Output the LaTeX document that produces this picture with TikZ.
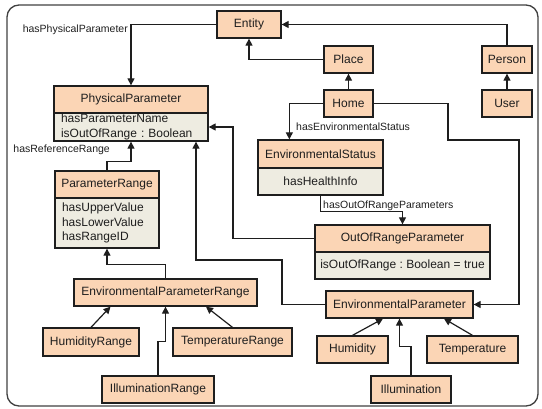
\documentclass[tikz,border=0pt]{standalone}
\usepackage{fontspec}
\setmainfont{Liberation Sans}
\usetikzlibrary{arrows.meta,calc}
\definecolor{peach}{HTML}{FBD5B5}
\definecolor{attrfill}{HTML}{EEECE1}
\definecolor{ink}{HTML}{1E1E1E}
\frenchspacing
\begin{document}
\begin{tikzpicture}[x=1pt,y=-1pt,
  box/.style={draw=ink, line width=1.3pt, fill=peach, minimum height=27pt, inner sep=0pt, font=\fontsize{12}{14}\selectfont, text=ink},
  attrbox/.style={draw=ink, line width=1.3pt, fill=attrfill, inner xsep=7pt, inner ysep=0pt, font=\fontsize{12}{14.3}\selectfont, text=ink},
  arr/.style={draw=ink, line width=1.2pt, -{Triangle[length=7pt,width=7pt]}},
  lbl/.style={inner sep=0pt, font=\fontsize{10.5}{12}\selectfont, text=ink}]
\useasboundingbox (0,0) rectangle (542,409);
\draw[draw=ink!85, line width=1.3pt, rounded corners=12pt] (7,5) rectangle (538,406);

% nodes
\node[box, minimum width=64pt] (Entity) at (249,24.5) {Entity};
\node[box, minimum width=49pt] (Place) at (348.5,59.5) {Place};
\node[box, minimum width=49pt] (Home) at (348.5,103.5) {Home};
\node[box, minimum width=50pt] (Person) at (507,59.5) {Person};
\node[box, minimum width=50pt] (User) at (507,103.5) {User};
\node[box, minimum width=154pt] (PPh) at (131,99.5) {PhysicalParameter};
\node[attrbox, text width=140pt, minimum height=28pt, align=left] (PPa) at (131,127) {hasParameterName\\isOutOfRange : Boolean};
\node[box, minimum width=104pt] (PRh) at (107,184.5) {ParameterRange};
\node[attrbox, text width=90pt, minimum height=50pt, align=left] (PRa) at (107,223) {hasUpperValue\\hasLowerValue\\hasRangeID};
\node[box, minimum width=125pt, minimum height=28pt] (ESh) at (320.5,154) {EnvironmentalStatus};
\node[attrbox, minimum width=125pt, minimum height=27pt] (ESa) at (320.5,181.5) {hasHealthInfo};
\node[box, minimum width=175pt] (ORPh) at (402.5,238.5) {OutOfRangeParameter};
\node[attrbox, inner xsep=0pt, minimum width=175pt, minimum height=27pt] (ORPa) at (402.5,265.5) {isOutOfRange : Boolean = true};
\node[box, minimum width=147pt] (EP) at (399.5,304.5) {EnvironmentalParameter};
\node[box, minimum width=71pt] (Hum) at (352.5,349.5) {Humidity};
\node[box, minimum width=91pt] (Temp) at (472.5,349.5) {Temperature};
\node[box, minimum width=80pt] (Ill) at (411,389.5) {Illumination};
\node[box, minimum width=183pt] (EPR) at (165.5,292.5) {EnvironmentalParameterRange};
\node[box, minimum width=96pt, minimum height=28pt] (HR) at (91,342) {HumidityRange};
\node[box, minimum width=119pt, minimum height=28pt] (TR) at (232.5,342) {TemperatureRange};
\node[box, minimum width=112pt] (IR) at (158,389.5) {IlluminationRange};

% connectors
\draw[arr] (Entity.west) -| (PPh.north);
\draw[arr] (Place.west) -| (Entity.south);
\draw[arr] (Person.north) |- (Entity.east);
\draw[arr] (User.north) -- (Person.south);
\draw[arr] (Home.north) -- (Place.south);
\draw[arr] (Home.west) -| ([xshift=32pt]ESh.north west);
\draw[arr] (Home.east) -| (448,140) -| (519,304.5) -- (EP.east);
\draw[arr] (ESa.south) -- (320.5,211.5) -| (ORPh.north);
\draw[arr] (ORPh.west) -- (233,238.5) |- (PPa.east);
\draw[arr] (EP.west) -| (282,260) -| ([xshift=65pt]PPa.south);
\draw[arr] (PRh.north) -- ++(0,-9) -| (PPa.south);
\draw[arr] (EPR.north) -- ++(0,-14) -| (PRa.south);
\draw[arr] (HR.north) -- ([xshift=-55pt]EPR.south);
\draw[arr] (TR.north) -- ([xshift=40.5pt]EPR.south);
\draw[arr] (IR.north) -- ++(0,-34) -| (EPR.south);
\draw[arr] (Hum.north) -- ([xshift=-16.5pt]EP.south);
\draw[arr] (Temp.north) -- ([xshift=44.5pt]EP.south);
\draw[arr] (Ill.north) -- ++(0,-29) -| (EP.south);

% labels
\node[lbl, anchor=east] (l1) at (128,29.5) {hasPhysicalParameter};
\node[lbl, anchor=west] (l2) at (296,127) {hasEnvironmentalStatus};
\node[lbl, anchor=east] (l3) at (110,150) {hasReferenceRange};
\node[lbl, anchor=west] (l4) at (323,205.5) {hasOutOfRangeParameters};
\end{tikzpicture}
\end{document}
